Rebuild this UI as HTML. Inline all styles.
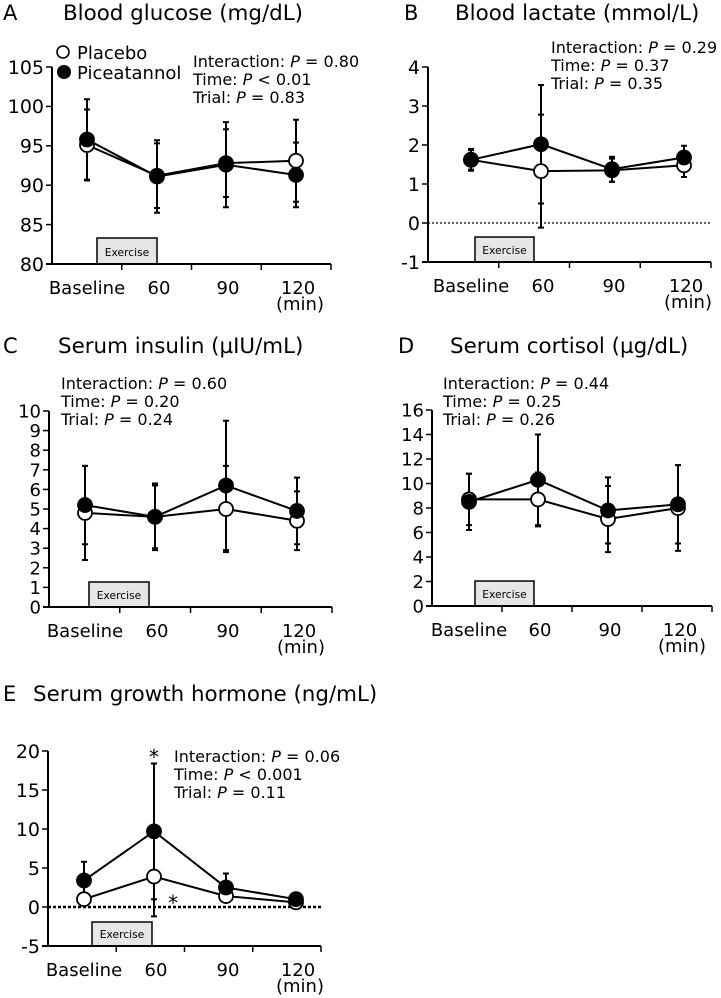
<!DOCTYPE html>
<html><head><meta charset="utf-8"><style>
body{margin:0;background:#fff;}
svg{display:block;font-family:"DejaVu Sans","Liberation Sans",sans-serif;}
</style></head><body>
<svg id="fig" width="721" height="998" viewBox="0 0 721 998"></svg>
<script>
const timeLabels = ["Baseline","60","90","120"];
const glucosePlacebo = [95.1, 91.2, 92.8, 93.1];
const glucosePlaceboSd = [4.5, 4.1, 4.3, 5.2];
const glucosePicea = [95.8, 91.1, 92.6, 91.3];
const glucosePiceaSd = [5.1, 4.6, 5.4, 4.1];
const lactatePlacebo = [1.62, 1.33, 1.35, 1.48];
const lactatePlaceboSd = [0.25, 1.45, 0.3, 0.3];
const lactatePicea = [1.62, 2.02, 1.38, 1.68];
const lactatePiceaSd = [0.28, 1.52, 0.32, 0.3];
const insulinPlacebo = [4.8, 4.6, 5.0, 4.4];
const insulinPlaceboSd = [2.4, 1.6, 2.2, 1.5];
const insulinPicea = [5.2, 4.6, 6.2, 4.9];
const insulinPiceaSd = [2.0, 1.7, 3.3, 1.7];
const cortisolPlacebo = [8.7, 8.7, 7.1, 8.0];
const cortisolPlaceboSd = [2.1, 2.2, 2.7, 3.5];
const cortisolPicea = [8.5, 10.3, 7.8, 8.3];
const cortisolPiceaSd = [2.3, 3.7, 2.7, 3.2];
const ghPlacebo = [1.0, 3.9, 1.4, 0.6];
const ghPlaceboSd = [0.8, 5.1, 0.8, 0.3];
const ghPicea = [3.4, 9.7, 2.5, 1.0];
const ghPiceaSd = [2.4, 8.7, 1.8, 0.3];
const ticksA = [80,85,90,95,100,105];
const ticksB = [-1,0,1,2,3,4];
const ticksC = [0,1,2,3,4,5,6,7,8,9,10];
const ticksD = [0,2,4,6,8,10,12,14,16];
const ticksE = [-5,0,5,10,15,20];

const NS="http://www.w3.org/2000/svg";
const svg=document.getElementById('fig');
function mk(tag,attrs,parent,text){
  const e=document.createElementNS(NS,tag);
  for(const k in attrs)e.setAttribute(k,attrs[k]);
  if(text!==undefined)e.textContent=text;
  (parent||svg).appendChild(e);return e;
}
function panel(p){
  const g=mk('g',{});
  
  
  const ymin=p.ticks[0],ymax=p.ticks[p.ticks.length-1];
  const Y=v=>p.y0-(v-ymin)/(ymax-ymin)*(p.y0-p.y1);
  const X=i=>p.px[i];
  const tf=p.tickFont||19;
  const lt=mk('text',{x:p.lx,y:p.ty,'font-size':21},g,p.letter);
  
  
  const tt=mk('text',{x:p.tx,y:p.ty,'font-size':21.4},g,p.title);
  
  
  const bx=mk('rect',{x:p.box[0],y:p.box[2],width:p.box[1]-p.box[0],height:p.y0-p.box[2],fill:'#e6e6e6',stroke:'#000','stroke-width':1.5},g);
  
  
  const bt=mk('text',{x:(p.box[0]+p.box[1])/2,y:p.y0-8,'font-size':10.7,'text-anchor':'middle'},g,'Exercise');
  
  
  if(p.zero){
    const z=mk('line',{x1:p.ax,x2:p.xe,y1:Y(0),y2:Y(0),stroke:'#000','stroke-width':p.zeroW,'stroke-dasharray':p.zeroW>2?'3 2':'2 2'},g);
    
    
  }
  const ya=mk('line',{x1:p.ax,x2:p.ax,y1:p.y1,y2:p.y0,stroke:'#000','stroke-width':2},g);
  
  
  const xa=mk('line',{x1:p.ax-6,x2:p.xe,y1:p.y0,y2:p.y0,stroke:'#000','stroke-width':2},g);
  
  
  p.ticks.forEach(t=>{
    mk('line',{x1:p.ax-6,x2:p.ax,y1:Y(t),y2:Y(t),stroke:'#000','stroke-width':1.5},g);
    const l=mk('text',{x:p.ax-8,y:Y(t)+tf*0.36,'font-size':tf,'text-anchor':'end'},g,String(t));
    
    
  });
  const step=(p.xe-p.ax)/4;
  for(let k=1;k<=4;k++)mk('line',{x1:p.ax+k*step,x2:p.ax+k*step,y1:p.y0,y2:p.y0+6,stroke:'#000','stroke-width':1.5},g);
  timeLabels.forEach((s,i)=>{
    const l=mk('text',{x:X(i)+(i==0?0:2),y:p.y0+30,'font-size':18,'text-anchor':'middle'},g,s);
    
    
  });
  const mn=mk('text',{x:X(3)+4,y:p.y0+46,'font-size':18,'text-anchor':'middle'},g,'(min)');
  
  
  [[p.pl,p.plSd,'placebo'],[p.pi,p.piSd,'piceatannol']].forEach(([vals,sd,nm])=>{
    vals.forEach((v,i)=>{
      const e=mk('path',{d:`M${X(i)},${Y(v-sd[i])}V${Y(v+sd[i])}M${X(i)-3},${Y(v-sd[i])}h6M${X(i)-3},${Y(v+sd[i])}h6`,stroke:'#000','stroke-width':2,fill:'none'},g);
      
      
    });
  });
  [[p.pl,'placebo'],[p.pi,'piceatannol']].forEach(([vals,nm])=>{
    const ln=mk('polyline',{points:vals.map((v,i)=>X(i)+','+Y(v)).join(' '),fill:'none',stroke:'#000','stroke-width':2},g);
    
    
  });
  [[p.pl,'#fff','placebo'],[p.pi,'#000','piceatannol']].forEach(([vals,fill,nm])=>{
    vals.forEach((v,i)=>{
      const c=mk('circle',{cx:X(i),cy:Y(v),r:7,fill:fill,stroke:'#000','stroke-width':1.8},g);
      
      
    });
  });
  p.stats.forEach((s,k)=>{
    const t=mk('text',{x:p.sx,y:p.sy+k*18,'font-size':16},g);
    
    
    mk('tspan',{},t,s[0]+' ');
    mk('tspan',{'font-style':'italic'},t,'P');
    mk('tspan',{},t,' '+s[1]);
  });
  return {g,X,Y};
}
panel({name:'panel-a-glucose',letter:'A',title:'Blood glucose (mg/dL)',lx:3,tx:63,ty:20,ax:52,xe:331,y0:264,y1:67,
  ticks:ticksA,px:[87,157,226,296],box:[97,157,238],pl:glucosePlacebo,plSd:glucosePlaceboSd,pi:glucosePicea,piSd:glucosePiceaSd,
  stats:[['Interaction:','= 0.80'],['Time:','< 0.01'],['Trial:','= 0.83']],sx:193,sy:67});
panel({name:'panel-b-lactate',letter:'B',title:'Blood lactate (mmol/L)',lx:404,tx:455,ty:20,ax:428,xe:711,y0:262,y1:67,
  ticks:ticksB,px:[471,541,612,684],box:[475,534,237],pl:lactatePlacebo,plSd:lactatePlaceboSd,pi:lactatePicea,piSd:lactatePiceaSd,zero:true,zeroW:1.3,
  stats:[['Interaction:','= 0.29'],['Time:','= 0.37'],['Trial:','= 0.35']],sx:551,sy:53});
panel({name:'panel-c-insulin',letter:'C',title:'Serum insulin (µIU/mL)',lx:3,tx:58,ty:353,ax:49,xe:332,y0:607,y1:411,tickFont:18,
  ticks:ticksC,px:[85,155,226,297],box:[89,149,582],pl:insulinPlacebo,plSd:insulinPlaceboSd,pi:insulinPicea,piSd:insulinPiceaSd,
  stats:[['Interaction:','= 0.60'],['Time:','= 0.20'],['Trial:','= 0.24']],sx:61,sy:389});
panel({name:'panel-d-cortisol',letter:'D',title:'Serum cortisol (µg/dL)',lx:398,tx:450,ty:353,ax:432,xe:712,y0:606,y1:410,tickFont:18,
  ticks:ticksD,px:[469,538,608,678],box:[475,534,581],pl:cortisolPlacebo,plSd:cortisolPlaceboSd,pi:cortisolPicea,piSd:cortisolPiceaSd,
  stats:[['Interaction:','= 0.44'],['Time:','= 0.25'],['Trial:','= 0.26']],sx:443,sy:389});
panel({name:'panel-e-growth-hormone',letter:'E',title:'Serum growth hormone (ng/mL)',lx:3,tx:33,ty:701,ax:48,xe:321,y0:946,y1:751,
  ticks:ticksE,px:[84,154,226,296],box:[92,152,922],pl:ghPlacebo,plSd:ghPlaceboSd,pi:ghPicea,piSd:ghPiceaSd,zero:true,zeroW:2.5,
  stats:[['Interaction:','= 0.06'],['Time:','< 0.001'],['Trial:','= 0.11']],sx:174,sy:762});
const lg=mk('g',{});


mk('circle',{cx:63,cy:52,r:6,fill:'#fff',stroke:'#000','stroke-width':1.6},lg);
mk('text',{x:77,y:59,'font-size':18},lg,'Placebo');
mk('circle',{cx:64,cy:72,r:7,fill:'#000'},lg);
mk('text',{x:77,y:79,'font-size':18},lg,'Piceatannol');
const s1=mk('text',{x:154,y:764,'font-size':20,'text-anchor':'middle'},null,'*');


const s2=mk('text',{x:173,y:910,'font-size':20,'text-anchor':'middle'},null,'*');


</script>
</body></html>
